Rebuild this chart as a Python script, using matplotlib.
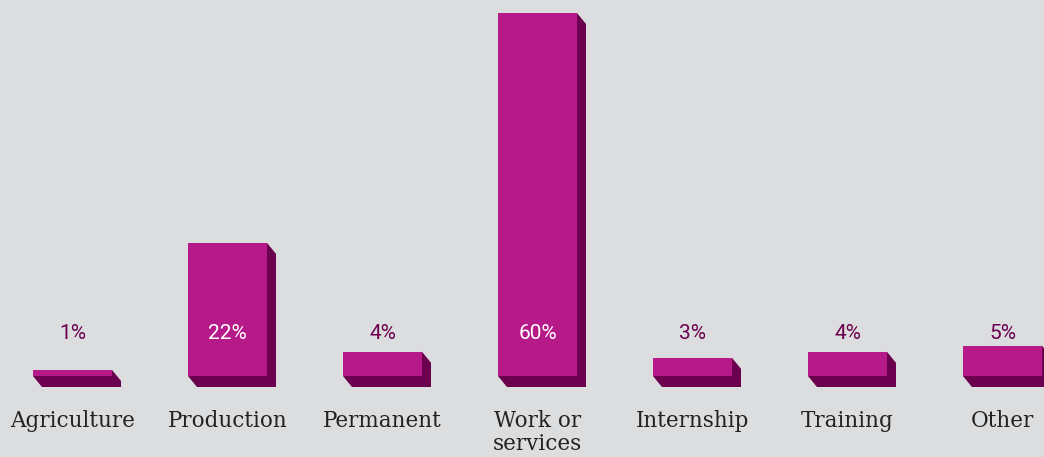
import matplotlib
matplotlib.use("Agg")
import matplotlib.pyplot as plt
from matplotlib.patches import Rectangle, Polygon

# Share of respondents by type of activity
categories = ["Agriculture", "Production", "Permanent", "Work or\nservices",
              "Internship", "Training", "Other"]
values = [1, 22, 4, 60, 3, 4, 5]
labels = ["1%", "22%", "4%", "60%", "3%", "4%", "5%"]

BG = "#dcdddf"
FACE = "#b51a88"
SIDE = "#6b004e"

fig = plt.figure(figsize=(10.44, 4.57), dpi=100, facecolor=BG)
ax = fig.add_axes([0, 0, 1, 1])
ax.set_facecolor(BG)
ax.set_xlim(-0.4677, 6.268)
ax.set_ylim(-13.39, 62.15)
ax.axis("off")

width = 0.51
dx = 9 / 155      # depth offset, x units
dy = 11 / 6.05    # depth offset, percent units

for i, v in enumerate(values):
    x0 = i - width / 2
    x1 = i + width / 2
    # dark side and bottom of the block
    ax.add_patch(Polygon([(x0, 0), (x0 + dx, -dy), (x1 + dx, -dy),
                          (x1 + dx, v - dy), (x1, v)],
                         closed=True, facecolor=SIDE, edgecolor="none"))
    ax.add_patch(Rectangle((x0, 0), width, v, facecolor=FACE, edgecolor="none"))

    inside = v > 10
    ax.text(i, 7.0, labels[i], ha="center", va="center", fontsize=15,
            family="Roboto", color="white" if inside else SIDE)
    ax.text(i, -5.6, categories[i], ha="center", va="top", fontsize=15.5,
            family="DejaVu Serif", color="#222222", linespacing=1.05)

fig.savefig("out.png", dpi=100, facecolor=BG)
